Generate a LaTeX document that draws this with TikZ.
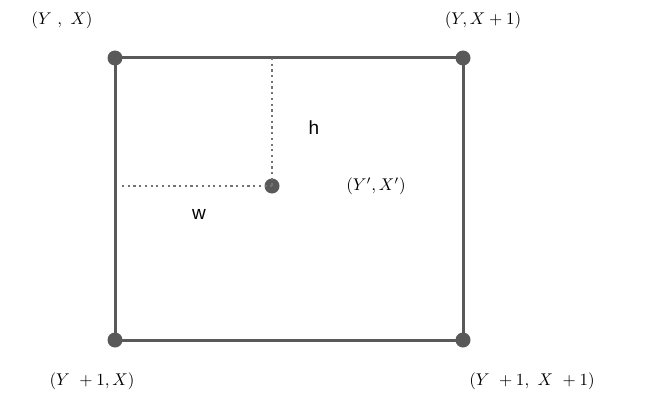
\documentclass[tikz,border=0pt]{standalone}
\usepackage{fontspec}
\usepackage{graphicx}
\setsansfont{Liberation Sans}
\newcommand{\biglab}[1]{\scalebox{1.7}{#1}}
\begin{document}
\begin{tikzpicture}[x=1pt,y=-1pt,
  edge/.style={draw=black!65,line width=3pt},
  dot/.style={circle,fill=black!65,inner sep=0pt,minimum size=15pt},
  dotl/.style={draw=black!55,line width=2.2pt,dash pattern=on 2.2pt off 3.5pt},
  lab/.style={inner sep=0pt}]
\useasboundingbox (0,0) rectangle (668,401);
\coordinate (tl) at (115,58);
\coordinate (tr) at (463,58);
\coordinate (bl) at (115,340);
\coordinate (br) at (463,340);
\coordinate (tm) at (272,58);
\coordinate (lm) at (122,186);
\draw[edge] (tl) -- (tr) -- (br) -- (bl) -- cycle;
\node[dot] (a) at (tl) {};
\node[dot] (b) at (tr) {};
\node[dot] (c) at (bl) {};
\node[dot] (d) at (br) {};
\node[dot,minimum size=15pt] (m) at (272,186) {};
\draw[dotl] (tm) -- (m.center);
\draw[dotl] (lm) -- (m.center);
\node[lab] (la) at (62,20) {\biglab{$(Y\ ,\ X)$}};
\node[lab] (lb) at (483,20) {\biglab{$(Y, X+1)$}};
\node[lab] (lc) at (92,381) {\biglab{$(Y\ +1, X)$}};
\node[lab] (ld) at (532,381) {\biglab{$(Y\ +1,\ X\ +1)$}};
\node[lab] (lm2) at (376,186) {\biglab{$(Y', X')$}};
\node[font=\sffamily\fontsize{19}{22}\selectfont] (h) at (314,128) {h};
\node[font=\sffamily\fontsize{19}{22}\selectfont] (w) at (199,214) {w};
\end{tikzpicture}
\end{document}
